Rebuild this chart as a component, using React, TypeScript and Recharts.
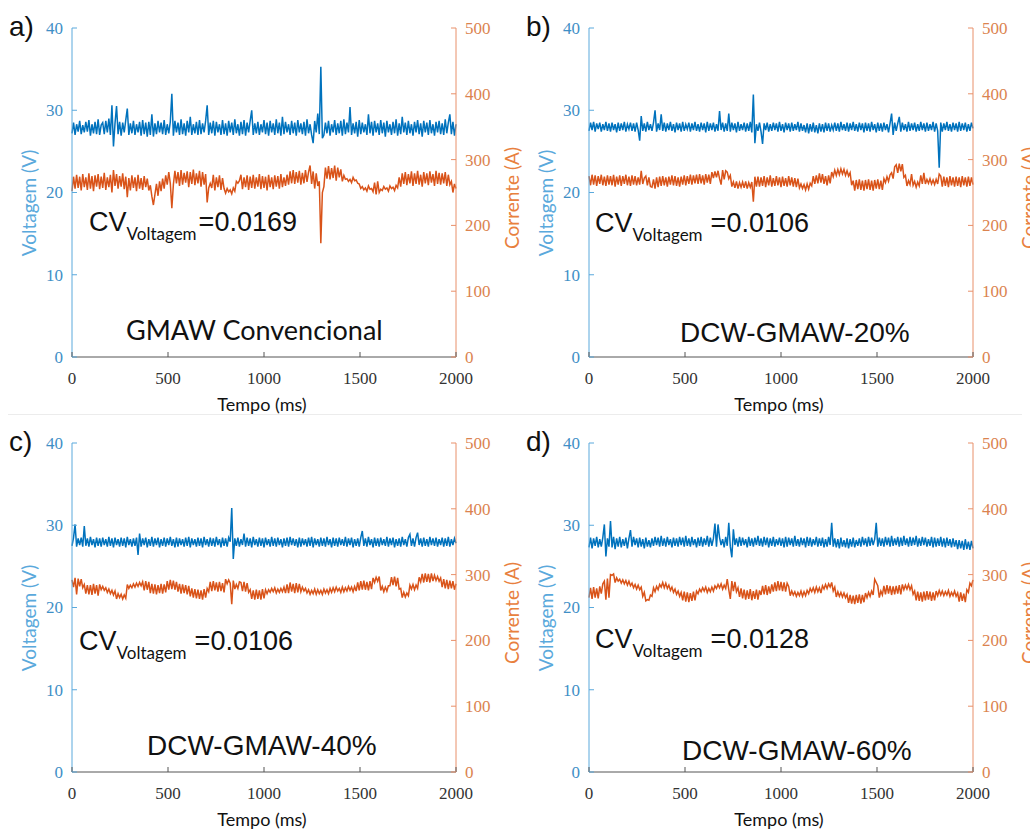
import React from "react";
import { LineChart, Line, XAxis, YAxis } from "recharts";

// sampling grid of the traces (ms)
const STEP_MS = 8;
const X_TICKS = [0, 500, 1000, 1500, 2000];
const V_TICKS = [0, 10, 20, 30, 40];
const C_TICKS = [0, 100, 200, 300, 400, 500];

// a) GMAW Convencional
const voltA = [
  27.2, 28.5, 27.0, 28.3, 27.4, 28.7, 27.1, 28.2, 27.3, 28.6,
  27.4, 28.8, 26.9, 28.3, 27.2, 28.6, 27.1, 28.9, 27.0, 28.2,
  28.5, 27.1, 28.7, 27.3, 29.0, 27.0, 30.6, 25.6, 28.4, 30.5,
  27.1, 28.6, 26.9, 28.5, 27.3, 28.8, 30.2, 27.0, 28.4, 27.2,
  28.7, 27.0, 28.3, 27.3, 28.6, 26.9, 28.8, 27.1, 28.5, 26.8,
  28.6, 27.0, 29.5, 26.8, 28.4, 27.1, 28.7, 27.3, 28.5, 27.1,
  28.8, 27.0, 28.3, 27.2, 28.6, 32.0, 26.9, 28.7, 27.3, 28.5,
  27.0, 28.9, 27.1, 28.4, 26.9, 28.7, 27.3, 29.2, 27.0, 28.3,
  27.2, 28.6, 27.0, 28.8, 27.1, 28.4, 27.3, 28.7, 30.6, 27.0,
  28.5, 27.2, 28.7, 26.9, 28.6, 27.3, 28.3, 27.0, 28.8, 27.1,
  28.4, 26.9, 28.7, 27.3, 28.5, 27.0, 28.9, 27.2, 28.3, 26.9,
  28.6, 27.1, 28.8, 26.9, 28.5, 27.3, 28.7, 30.0, 27.0, 28.4,
  27.2, 28.6, 27.0, 28.3, 27.3, 28.8, 27.1, 28.5, 26.9, 28.7,
  27.3, 28.4, 27.0, 28.9, 27.2, 28.5, 26.9, 29.2, 27.1, 28.6,
  27.3, 28.3, 27.0, 28.7, 27.2, 28.5, 26.9, 28.8, 27.3, 28.4,
  27.1, 28.6, 26.9, 28.9, 27.2, 28.3, 27.0, 26.0, 28.7, 27.3,
  29.6, 27.1, 35.3, 26.6, 27.0, 28.5, 27.2, 28.7, 26.9, 28.3,
  27.3, 28.8, 27.0, 28.4, 27.2, 28.7, 26.9, 28.9, 27.1, 28.5,
  27.3, 30.4, 27.0, 28.4, 27.2, 28.6, 26.8, 28.8, 27.1, 28.5,
  27.3, 28.3, 27.0, 29.5, 27.2, 28.6, 26.9, 28.7, 27.3, 28.4,
  27.0, 28.8, 27.2, 28.5, 26.8, 28.7, 27.3, 28.3, 27.0, 28.6,
  27.2, 28.9, 26.9, 28.4, 27.1, 29.2, 27.3, 28.5, 27.0, 28.7,
  27.2, 28.3, 26.9, 28.6, 27.3, 28.8, 27.1, 28.4, 26.8, 28.7,
  27.3, 28.5, 27.0, 28.8, 27.2, 28.3, 26.9, 28.6, 27.3, 28.7,
  27.1, 28.4, 27.0, 28.9, 27.2, 28.5, 29.5, 27.1, 28.6, 26.9,
  28.3,
];
const currA = [
  252, 274, 256, 277, 257, 274, 253, 278, 258, 273,
  254, 279, 256, 275, 252, 276, 259, 278, 255, 274,
  257, 280, 254, 273, 258, 277, 250, 284, 260, 278,
  256, 275, 259, 279, 255, 274, 243, 272, 253, 276,
  257, 273, 252, 277, 256, 272, 254, 275, 258, 271,
  253, 261, 244, 231, 247, 263, 245, 267, 252, 271,
  256, 276, 262, 281, 264, 226, 262, 283, 264, 281,
  260, 284, 262, 280, 265, 282, 258, 281, 263, 285,
  261, 279, 264, 283, 259, 281, 262, 278, 235, 257,
  264, 257, 277, 253, 273, 258, 276, 254, 272, 256,
  249, 256, 251, 254, 248, 257, 252, 267, 264, 268,
  277, 255, 273, 258, 276, 254, 274, 257, 277, 256,
  273, 259, 278, 255, 275, 257, 274, 253, 277, 258,
  273, 255, 276, 259, 275, 256, 278, 258, 273, 260,
  277, 262, 282, 264, 284, 263, 281, 265, 283, 262,
  280, 264, 284, 266, 281, 291, 263, 282, 256, 279,
  260, 267, 173, 250, 259, 288, 271, 290, 270, 287,
  272, 291, 268, 288, 273, 285, 267, 276, 270, 271,
  267, 270, 265, 273, 268, 269, 264, 263, 256, 259,
  254, 257, 252, 260, 255, 256, 251, 265, 247, 267,
  250, 255, 253, 259, 255, 257, 252, 260, 256, 258,
  253, 261, 257, 273, 259, 279, 263, 281, 261, 278,
  264, 282, 260, 279, 263, 283, 262, 277, 259, 281,
  264, 279, 261, 282, 265, 278, 260, 283, 263, 280,
  262, 279, 264, 281, 260, 277, 262, 267, 250, 263,
  256,
];

// b) DCW-GMAW-20%
const voltB = [
  27.5, 28.5, 27.6, 28.6, 27.4, 28.4, 27.7, 28.5, 27.4, 28.3,
  27.6, 28.6, 27.5, 28.4, 27.4, 28.5, 27.6, 28.3, 27.3, 28.5,
  27.5, 28.4, 27.6, 28.6, 27.4, 28.3, 27.7, 28.5, 27.5, 28.4,
  27.4, 28.5, 27.6, 26.3, 29.3, 27.5, 28.4, 27.4, 28.6, 27.6,
  28.3, 27.5, 28.5, 30.0, 27.4, 28.4, 27.6, 29.5, 27.5, 28.5,
  27.4, 28.4, 27.6, 28.6, 27.5, 28.3, 27.3, 28.5, 27.6, 28.4,
  27.4, 28.6, 27.5, 28.3, 27.7, 28.5, 27.4, 28.4, 27.6, 28.6,
  27.5, 28.3, 27.4, 28.5, 27.6, 28.4, 27.3, 28.6, 27.5, 28.4,
  27.6, 28.5, 27.4, 28.3, 27.5, 29.9, 27.6, 28.5, 27.4, 28.4,
  27.5, 29.6, 27.4, 28.5, 27.6, 28.4, 27.3, 28.6, 27.5, 28.3,
  27.6, 28.5, 27.4, 28.4, 27.5, 28.6, 27.3, 31.9, 26.0, 28.3,
  27.5, 28.5, 27.4, 25.9, 28.4, 27.6, 28.5, 27.4, 28.3, 27.5,
  28.5, 27.6, 28.4, 27.4, 28.6, 27.5, 28.3, 27.3, 28.5, 27.6,
  28.4, 27.4, 28.5, 27.5, 28.3, 27.6, 28.6, 27.4, 28.4, 27.5,
  28.2, 27.3, 28.4, 27.2, 28.3, 27.4, 28.5, 27.3, 28.2, 27.2,
  28.4, 27.4, 28.3, 27.3, 28.5, 27.5, 28.4, 27.4, 28.2, 27.6,
  28.5, 27.5, 28.4, 27.4, 28.6, 27.6, 28.3, 27.5, 28.5, 27.4,
  28.4, 27.6, 28.6, 27.5, 28.3, 27.4, 28.5, 27.6, 28.4, 27.3,
  28.5, 27.5, 28.4, 27.4, 28.6, 27.6, 28.3, 27.3, 28.5, 27.5,
  28.4, 27.4, 28.5, 27.6, 28.3, 27.3, 28.4, 29.6, 27.0, 28.5,
  27.5, 28.4, 29.2, 27.4, 28.5, 27.6, 28.3, 27.4, 28.6, 27.5,
  28.4, 27.6, 28.5, 27.4, 28.3, 27.5, 28.6, 27.6, 28.4, 27.4,
  28.5, 27.5, 28.3, 27.6, 28.6, 27.4, 28.4, 27.5, 23.0, 28.5,
  27.4, 28.4, 27.6, 28.6, 27.5, 28.3, 27.4, 28.5, 27.6, 28.4,
  27.4, 28.6, 27.5, 28.4, 27.6, 28.5, 27.4, 28.3, 27.5, 28.5,
  27.8,
];
const currB = [
  275, 261, 277, 262, 276, 260, 275, 263, 277, 261,
  274, 260, 276, 262, 275, 261, 277, 259, 274, 262,
  276, 260, 275, 263, 277, 261, 274, 260, 276, 262,
  275, 261, 273, 262, 283, 263, 272, 275, 261, 273,
  259, 258, 270, 256, 273, 258, 274, 260, 275, 261,
  273, 259, 274, 262, 276, 261, 275, 260, 273, 259,
  274, 262, 276, 261, 275, 263, 277, 262, 276, 264,
  277, 263, 278, 264, 276, 262, 278, 265, 277, 263,
  281, 272, 282, 273, 283, 271, 262, 284, 270, 283,
  281, 271, 276, 259, 266, 257, 267, 256, 265, 258,
  266, 257, 267, 256, 265, 258, 266, 236, 274, 259,
  274, 259, 273, 260, 275, 258, 273, 261, 276, 259,
  272, 260, 275, 261, 273, 258, 274, 260, 272, 259,
  275, 261, 273, 259, 272, 258, 271, 257, 263, 256,
  262, 254, 263, 255, 264, 260, 275, 263, 276, 264,
  279, 265, 278, 263, 275, 261, 276, 264, 281, 274,
  284, 276, 285, 277, 286, 278, 285, 276, 283, 275,
  280, 261, 268, 253, 269, 255, 270, 254, 268, 253,
  269, 255, 270, 254, 268, 253, 269, 256, 270, 255,
  268, 254, 271, 265, 274, 267, 277, 280, 271, 289,
  292, 280, 294, 282, 293, 273, 276, 260, 268, 262,
  278, 261, 267, 258, 266, 260, 276, 263, 280, 263,
  270, 264, 271, 263, 269, 262, 270, 263, 278, 275,
  259, 274, 260, 273, 258, 275, 261, 273, 259, 274,
  260, 273, 258, 275, 261, 273, 259, 274, 260, 273,
  262,
];

// c) DCW-GMAW-40%
const voltC = [
  27.5, 28.5, 30.1, 27.4, 28.4, 27.6, 28.5, 27.4, 29.9, 27.5,
  28.4, 27.4, 28.6, 27.6, 28.3, 27.3, 28.5, 27.5, 28.4, 27.4,
  28.5, 27.6, 28.3, 27.4, 28.6, 27.5, 28.4, 27.3, 28.5, 27.6,
  28.3, 27.4, 28.5, 27.5, 28.4, 27.3, 28.6, 27.6, 28.3, 27.4,
  28.4, 27.5, 28.5, 26.4, 29.0, 27.4, 28.4, 27.6, 28.5, 27.3,
  28.3, 27.5, 28.6, 27.4, 28.4, 27.6, 28.5, 27.3, 28.3, 27.5,
  28.5, 27.4, 28.4, 27.6, 28.6, 27.5, 28.3, 27.3, 28.5, 27.4,
  28.4, 27.6, 28.3, 27.4, 28.5, 27.5, 28.6, 27.3, 28.4, 27.6,
  28.3, 27.4, 28.5, 27.5, 28.4, 27.3, 28.6, 27.6, 28.3, 27.4,
  28.5, 27.5, 28.4, 27.4, 28.6, 27.6, 28.3, 27.3, 28.5, 27.5,
  28.4, 27.4, 28.5, 28.0, 32.1, 25.9, 28.4, 27.5, 28.5, 27.4,
  28.3, 27.6, 29.0, 27.4, 28.5, 27.5, 28.4, 27.3, 28.6, 27.6,
  28.3, 27.4, 28.5, 27.5, 28.4, 27.3, 28.5, 27.6, 28.3, 27.4,
  28.6, 27.5, 28.4, 27.4, 28.5, 27.6, 28.3, 27.3, 28.4, 27.5,
  28.5, 27.4, 28.6, 27.6, 28.4, 27.5, 28.3, 27.3, 28.5, 27.4,
  28.4, 27.6, 28.3, 27.4, 28.5, 27.5, 28.6, 27.3, 28.4, 27.6,
  28.3, 27.4, 28.5, 27.5, 28.4, 27.4, 28.6, 27.6, 28.3, 27.3,
  28.5, 27.5, 28.4, 27.4, 28.5, 27.6, 28.3, 27.5, 28.6, 27.4,
  28.4, 27.6, 28.5, 27.3, 28.3, 27.5, 28.4, 27.4, 28.5, 29.3,
  27.5, 28.4, 27.4, 28.6, 27.6, 28.3, 27.3, 28.5, 27.5, 28.4,
  27.4, 28.5, 27.6, 28.3, 27.5, 28.6, 27.4, 28.4, 27.6, 28.5,
  27.3, 28.3, 27.5, 28.4, 27.4, 28.6, 27.6, 28.3, 27.4, 28.5,
  28.9, 27.5, 28.4, 27.4, 28.5, 29.1, 27.6, 28.4, 27.4, 28.5,
  27.5, 28.3, 27.4, 28.6, 27.6, 28.4, 27.5, 28.5, 27.4, 28.3,
  27.6, 28.5, 27.4, 28.4, 27.5, 28.6, 27.4, 28.3, 27.6, 28.4,
  27.8,
];
const currC = [
  292, 281, 295, 270, 294, 282, 293, 280, 285, 271,
  284, 270, 284, 269, 286, 271, 284, 268, 285, 277,
  282, 276, 280, 273, 278, 271, 276, 269, 275, 263,
  271, 265, 270, 263, 269, 264, 285, 279, 284, 280,
  286, 281, 287, 282, 288, 283, 289, 276, 290, 277,
  289, 272, 286, 271, 285, 270, 284, 272, 286, 271,
  285, 273, 290, 277, 292, 278, 291, 277, 289, 274,
  286, 271, 285, 272, 284, 270, 283, 267, 279, 265,
  278, 264, 277, 263, 276, 262, 278, 265, 279, 274,
  289, 275, 290, 276, 288, 274, 289, 275, 287, 273,
  293, 286, 292, 287, 255, 291, 278, 285, 279, 289,
  288, 275, 289, 274, 287, 273, 277, 263, 276, 262,
  277, 263, 276, 262, 278, 264, 277, 271, 277, 273,
  279, 274, 280, 272, 278, 273, 279, 274, 281, 272,
  285, 272, 288, 274, 286, 272, 287, 273, 286, 274,
  281, 275, 279, 272, 277, 270, 276, 271, 278, 270,
  277, 271, 276, 270, 278, 272, 277, 271, 279, 273,
  280, 274, 281, 275, 279, 273, 281, 274, 280, 275,
  282, 276, 281, 274, 282, 275, 288, 276, 290, 277,
  291, 277, 289, 276, 290, 278, 295, 288, 296, 290,
  297, 276, 282, 274, 281, 275, 283, 283, 296, 284,
  297, 282, 295, 278, 279, 265, 273, 266, 272, 268,
  284, 278, 285, 277, 284, 279, 296, 289, 301, 288,
  302, 289, 301, 288, 302, 290, 299, 291, 297, 290,
  295, 281, 293, 279, 292, 278, 291, 279, 290, 277,
  286,
];

// d) DCW-GMAW-60%
const voltD = [
  27.3, 28.5, 27.2, 28.4, 27.5, 28.6, 27.3, 28.3, 27.4, 28.5,
  30.1, 26.2, 28.4, 27.4, 30.5, 27.3, 28.6, 27.1, 28.4, 27.4,
  28.6, 27.3, 28.3, 27.5, 28.5, 27.2, 28.4, 29.4, 27.4, 28.6,
  27.6, 28.4, 27.3, 28.5, 27.4, 28.3, 27.2, 28.5, 27.4, 28.2,
  27.3, 28.4, 27.5, 28.6, 27.6, 28.5, 27.4, 28.7, 27.5, 28.4,
  27.4, 28.6, 27.6, 28.3, 27.3, 28.5, 27.5, 28.4, 27.4, 28.6,
  27.6, 28.5, 27.4, 28.7, 27.5, 28.4, 27.4, 28.6, 27.6, 28.3,
  27.3, 28.5, 27.5, 28.6, 27.4, 28.4, 27.6, 28.7, 27.4, 28.5,
  27.5, 28.4, 30.2, 27.4, 30.1, 28.5, 27.6, 28.3, 27.3, 28.6,
  27.5, 30.3, 27.4, 26.1, 29.5, 27.6, 28.4, 27.4, 28.6, 27.5,
  28.5, 27.6, 28.3, 27.3, 28.6, 27.5, 28.4, 27.4, 28.5, 27.6,
  28.7, 27.5, 28.4, 27.4, 28.6, 27.6, 28.5, 27.3, 28.4, 27.5,
  28.6, 27.4, 28.3, 27.6, 28.5, 27.5, 28.4, 27.3, 28.6, 27.4,
  28.5, 27.6, 28.4, 27.4, 28.7, 27.5, 28.3, 27.4, 28.5, 27.6,
  28.4, 27.3, 28.6, 27.5, 28.5, 27.4, 28.3, 27.6, 28.6, 27.4,
  28.4, 27.5, 28.5, 27.3, 28.3, 27.4, 28.6, 27.6, 30.3, 27.4,
  28.4, 27.3, 28.3, 27.2, 28.5, 27.4, 28.2, 27.3, 28.4, 27.2,
  28.3, 27.4, 28.5, 27.3, 28.2, 27.5, 28.4, 27.4, 28.6, 27.6,
  28.4, 27.4, 28.6, 27.5, 28.5, 27.6, 28.3, 30.3, 27.4, 28.5,
  27.5, 28.4, 27.4, 28.6, 27.6, 28.5, 27.4, 28.7, 27.5, 28.4,
  27.6, 28.6, 27.4, 28.5, 27.5, 28.7, 27.6, 28.4, 27.4, 28.6,
  27.5, 28.5, 27.6, 28.7, 27.4, 28.4, 27.5, 28.6, 27.6, 28.5,
  27.4, 28.3, 27.5, 28.6, 27.3, 28.5, 27.4, 28.4, 27.5, 28.6,
  27.4, 28.4, 27.3, 28.5, 27.5, 28.3, 27.3, 28.4, 27.4, 28.2,
  27.1, 28.2, 27.2, 28.1, 27.0, 28.3, 27.1, 28.0, 27.0, 28.1,
  27.2,
];
const currD = [
  265, 280, 263, 281, 265, 279, 264, 282, 271, 286,
  290, 262, 294, 265, 300, 299, 301, 288, 295, 290,
  293, 287, 292, 286, 291, 284, 290, 283, 287, 280,
  285, 278, 284, 277, 281, 267, 273, 260, 262, 261,
  269, 267, 280, 274, 282, 277, 285, 281, 288, 280,
  287, 279, 284, 276, 281, 273, 278, 270, 275, 267,
  273, 261, 274, 259, 273, 258, 272, 260, 274, 261,
  275, 271, 278, 274, 280, 275, 281, 273, 279, 274,
  281, 275, 283, 279, 285, 280, 286, 278, 284, 279,
  293, 277, 263, 290, 275, 289, 274, 280, 266, 279,
  264, 277, 262, 276, 263, 278, 261, 275, 263, 277,
  262, 276, 269, 283, 270, 284, 269, 282, 271, 285,
  274, 288, 275, 290, 276, 289, 275, 288, 274, 287,
  282, 268, 275, 269, 274, 267, 273, 268, 275, 267,
  274, 268, 276, 271, 279, 274, 280, 273, 281, 274,
  280, 272, 283, 278, 285, 279, 286, 281, 288, 275,
  281, 266, 274, 267, 273, 266, 272, 265, 270, 257,
  269, 256, 268, 255, 269, 257, 270, 256, 269, 258,
  272, 265, 273, 267, 275, 269, 293, 288, 283, 265,
  275, 269, 283, 270, 284, 271, 283, 269, 282, 270,
  283, 271, 284, 270, 285, 277, 284, 278, 285, 277,
  283, 270, 275, 261, 274, 260, 273, 259, 274, 261,
  275, 262, 274, 260, 273, 261, 275, 268, 276, 269,
  275, 268, 274, 269, 276, 267, 273, 268, 275, 267,
  272, 259, 273, 260, 271, 258, 277, 273, 287, 283,
  292,
];

const BLUE = "#0072BD";
const ORANGE = "#D95319";
const LEFT_AXIS = "#5aa9dc";
const RIGHT_AXIS = "#e8906a";
const LEFT_TEXT = "#3f8fc6";
const RIGHT_TEXT = "#db834f";
const SERIF = "'Liberation Serif', 'Times New Roman', 'DejaVu Serif', serif";
const ARIAL = "'Liberation Sans', Arial, sans-serif";
const CALIBRI = "Lato, 'Open Sans', sans-serif";
const TICK_GAP = 6;

const toRows = (volt: number[], curr: number[]) =>
  volt.map((v, i) => ({ t: i * STEP_MS, v, c: curr[i] }));

const tickText = { fontFamily: SERIF, fontSize: 17 };

function LeftTick(props: any) {
  const { x, y, payload } = props;
  const ax = x + TICK_GAP;
  return (
    <g>
      <line x1={ax} x2={ax + 5} y1={y} y2={y} stroke={LEFT_AXIS} />
      <text x={ax - 9} y={y} dy="0.35em" textAnchor="end" fill={LEFT_TEXT} style={tickText}>
        {payload.value}
      </text>
    </g>
  );
}

function RightTick(props: any) {
  const { x, y, payload } = props;
  const ax = x - TICK_GAP;
  return (
    <g>
      <line x1={ax - 5} x2={ax} y1={y} y2={y} stroke={RIGHT_AXIS} />
      <text x={ax + 9} y={y} dy="0.35em" textAnchor="start" fill={RIGHT_TEXT} style={tickText}>
        {payload.value}
      </text>
    </g>
  );
}

function BottomTick(props: any) {
  const { x, y, payload } = props;
  const ay = y - TICK_GAP;
  return (
    <g>
      <line x1={x} x2={x} y1={ay} y2={ay - 5} stroke="#555" />
      <text x={x} y={ay + 27} textAnchor="middle" fill="#333" style={tickText}>
        {payload.value}
      </text>
    </g>
  );
}

type PanelProps = {
  letter: string;
  volt: number[];
  curr: number[];
  cv: string;
  name: string;
  nameFont: string;
  nameSize: number;
  nameX: number;
  nameY: number;
  cvX: number;
  cvY: number;
  left: number;
  top: number;
};

function Panel(p: PanelProps) {
  const rows = toRows(p.volt, p.curr);
  return (
    <div style={{ position: "absolute", left: p.left, top: p.top, width: 515, height: 416 }}>
      <LineChart width={515} height={416} data={rows} margin={{ top: 28, right: 19, bottom: 29, left: 32 }}>
        <XAxis
          dataKey="t"
          type="number"
          domain={[0, 2000]}
          ticks={X_TICKS}
          height={30}
          tickSize={0}
          tickMargin={TICK_GAP}
          tickLine={false}
          axisLine={{ stroke: "#555" }}
          tick={(t: any) => <BottomTick {...t} />}
        />
        <YAxis
          yAxisId="v"
          orientation="left"
          domain={[0, 40]}
          ticks={V_TICKS}
          width={40}
          tickSize={0}
          tickMargin={TICK_GAP}
          tickLine={false}
          axisLine={{ stroke: LEFT_AXIS }}
          tick={(t: any) => <LeftTick {...t} />}
        />
        <YAxis
          yAxisId="c"
          orientation="right"
          domain={[0, 500]}
          ticks={C_TICKS}
          width={40}
          tickSize={0}
          tickMargin={TICK_GAP}
          tickLine={false}
          axisLine={{ stroke: RIGHT_AXIS }}
          tick={(t: any) => <RightTick {...t} />}
        />
        <Line yAxisId="c" dataKey="c" type="linear" stroke={ORANGE} strokeWidth={1.5} dot={false} isAnimationActive={false} />
        <Line yAxisId="v" dataKey="v" type="linear" stroke={BLUE} strokeWidth={1.5} dot={false} isAnimationActive={false} />
      </LineChart>
      <svg
        width={515}
        height={416}
        style={{ position: "absolute", left: 0, top: 0, overflow: "visible", pointerEvents: "none" }}
      >
        <text x={9} y={36} fontFamily={ARIAL} fontSize={28} fill="#111">
          {p.letter})
        </text>
        <text
          transform="translate(36,203) rotate(-90)"
          textAnchor="middle"
          fontFamily={CALIBRI}
          fontSize={19}
          fill="#5aa9dc"
        >
          Voltagem (V)
        </text>
        <text
          transform="translate(519,198) rotate(-90)"
          textAnchor="middle"
          fontFamily={CALIBRI}
          fontSize={19}
          fill="#e8803e"
        >
          Corrente (A)
        </text>
        <text x={p.cvX} y={p.cvY} fontFamily={ARIAL} fontSize={27} fill="#111">
          CV
          <tspan fontFamily={CALIBRI} fontSize={17} dy={9}>
            Voltagem
          </tspan>
          <tspan dy={-9} dx={p.letter === "a" ? 2 : 8}>
            ={p.cv}
          </tspan>
        </text>
        <text x={p.nameX} y={p.nameY} fontFamily={p.nameFont} fontSize={p.nameSize} fill="#111">
          {p.name}
        </text>
        <text x={262} y={411} textAnchor="middle" fontFamily={CALIBRI} fontSize={18} fill="#111">
          Tempo (ms)
        </text>
      </svg>
    </div>
  );
}

export default function App() {
  return (
    <div
      style={{
        position: "absolute",
        left: 0,
        top: 0,
        width: 1030,
        height: 831,
        overflow: "hidden",
        background: "#fff",
      }}
    >
      <div style={{ position: "absolute", left: 8, top: 414, width: 1014, height: 1, background: "#ececec" }} />
      <Panel
        letter="a"
        volt={voltA}
        curr={currA}
        cv="0.0169"
        name="GMAW Convencional"
        nameFont={CALIBRI}
        nameSize={27}
        nameX={126}
        nameY={340}
        cvX={89}
        cvY={231}
        left={0}
        top={0}
      />
      <Panel
        letter="b"
        volt={voltB}
        curr={currB}
        cv="0.0106"
        name="DCW-GMAW-20%"
        nameFont={ARIAL}
        nameSize={28}
        nameX={163}
        nameY={342}
        cvX={78}
        cvY={232}
        left={517}
        top={0}
      />
      <Panel
        letter="c"
        volt={voltC}
        curr={currC}
        cv="0.0106"
        name="DCW-GMAW-40%"
        nameFont={ARIAL}
        nameSize={28}
        nameX={147}
        nameY={340}
        cvX={79}
        cvY={235}
        left={0}
        top={415}
      />
      <Panel
        letter="d"
        volt={voltD}
        curr={currD}
        cv="0.0128"
        name="DCW-GMAW-60%"
        nameFont={ARIAL}
        nameSize={28}
        nameX={165}
        nameY={345}
        cvX={78}
        cvY={233}
        left={517}
        top={415}
      />
    </div>
  );
}
